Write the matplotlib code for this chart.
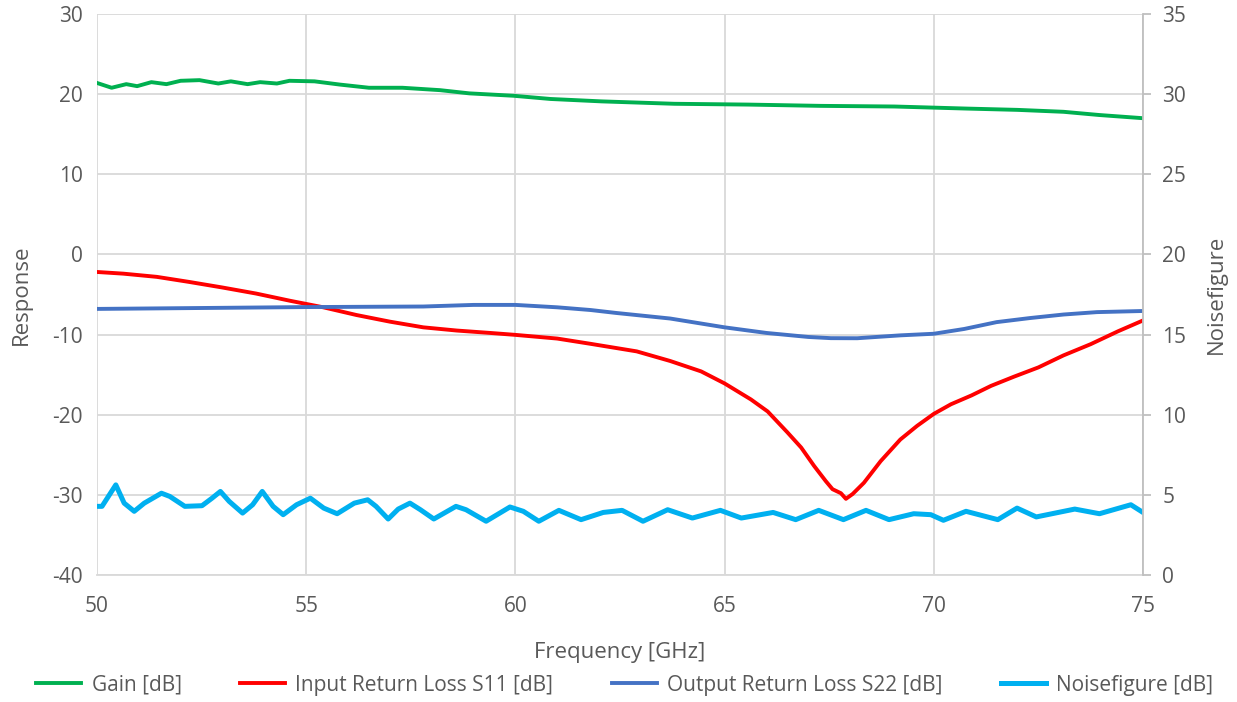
import matplotlib
matplotlib.use("Agg")
import matplotlib.pyplot as plt

# values
gain_f = [50.0, 50.35, 50.7, 50.96, 51.3, 51.66, 52.0, 52.45, 52.9, 53.2, 53.6, 53.9, 54.3, 54.6,
          55.2, 55.8, 56.5, 57.3, 58.2, 58.9, 59.96, 60.84, 62.06, 63.8, 65.56, 67.3, 69.06,
          70.8, 72.0, 73.1, 73.95, 75.0]
gain_db = [21.4, 20.8, 21.25, 21.0, 21.5, 21.25, 21.67, 21.75, 21.33, 21.6, 21.25, 21.5, 21.33, 21.67,
           21.6, 21.2, 20.8, 20.8, 20.5, 20.1, 19.8, 19.4, 19.1, 18.8, 18.7, 18.54, 18.46,
           18.2, 18.04, 17.8, 17.4, 17.0]

s11_f = [50.0, 50.63, 51.43, 52.2, 53.0, 53.8, 54.62, 55.41, 56.2, 57.0, 57.8, 58.6, 59.4, 60.0,
         61.0, 61.8, 62.9, 63.7, 64.44, 65.0, 65.63, 66.03, 66.5, 66.83, 67.14, 67.42, 67.58,
         67.78, 67.9, 68.06, 68.33, 68.73, 69.2, 69.6, 70.0, 70.41, 70.9, 71.37, 71.92, 72.5,
         73.1, 73.75, 74.4, 75.0]
s11_db = [-2.19, -2.4, -2.8, -3.43, -4.13, -4.88, -5.79, -6.6, -7.56, -8.39, -9.1, -9.5, -9.8, -10.04,
          -10.5, -11.16, -12.1, -13.3, -14.6, -16.1, -18.1, -19.6, -22.2, -24.1, -26.4, -28.3, -29.3,
          -29.8, -30.5, -29.9, -28.5, -25.8, -23.1, -21.4, -19.9, -18.7, -17.6, -16.4, -15.25, -14.1,
          -12.6, -11.2, -9.6, -8.24]

s22_f = [50.0, 52.2, 55.0, 57.8, 59.0, 60.0, 61.0, 61.8, 62.4, 63.7, 65.0, 66.0, 67.0, 67.54,
         68.17, 69.2, 70.0, 70.73, 71.5, 72.3, 73.1, 73.9, 75.0]
s22_db = [-6.8, -6.7, -6.57, -6.5, -6.3, -6.3, -6.6, -6.94, -7.3, -8.0, -9.1, -9.8, -10.3, -10.45,
          -10.46, -10.1, -9.9, -9.3, -8.45, -7.94, -7.5, -7.2, -7.06]

nf_f = [50.0, 50.12, 50.45, 50.65, 50.89, 51.13, 51.54, 51.74, 52.1, 52.51, 52.75, 52.95, 53.16,
        53.48, 53.72, 53.95, 54.21, 54.45, 54.77, 55.1, 55.42, 55.74, 56.15, 56.47, 56.67, 56.96,
        57.2, 57.48, 57.73, 58.05, 58.58, 58.82, 59.3, 59.87, 60.19, 60.56, 61.04, 61.57, 62.1,
        62.55, 63.05, 63.64, 64.23, 64.9, 65.4, 66.16, 66.7, 67.25, 67.84, 68.38, 68.93, 69.52,
        69.93, 70.23, 70.77, 71.53, 71.99, 72.45, 73.37, 73.96, 74.71, 75.0]
nf_db = [4.28, 4.28, 5.62, 4.48, 3.97, 4.48, 5.1, 4.9, 4.28, 4.32, 4.79, 5.21, 4.59,
         3.86, 4.38, 5.21, 4.28, 3.76, 4.38, 4.79, 4.17, 3.82, 4.48, 4.69, 4.28, 3.49,
         4.11, 4.48, 4.07, 3.49, 4.28, 4.07, 3.35, 4.24, 3.97, 3.35, 4.03, 3.45, 3.9,
         4.03, 3.35, 4.07, 3.55, 4.03, 3.55, 3.9, 3.45, 4.03, 3.45, 4.03, 3.45, 3.82,
         3.76, 3.41, 3.97, 3.45, 4.17, 3.62, 4.11, 3.82, 4.38, 3.9]

text_c = "#595959"
grid_c = "#D9D9D9"
plt.rcParams["font.family"] = ["Open Sans", "DejaVu Sans"]
plt.rcParams["axes.unicode_minus"] = False

fig = plt.figure(figsize=(12.37, 7.02), dpi=100)
ax = fig.add_axes([0.0784, 0.181, 0.8456, 0.799])
ax2 = ax.twinx()

l1, = ax.plot(gain_f, gain_db, color="#00B050", lw=2.8, label="Gain [dB]")
l2, = ax.plot(s11_f, s11_db, color="#FF0000", lw=2.8, label="Input Return Loss S11 [dB]")
l3, = ax.plot(s22_f, s22_db, color="#4472C4", lw=2.8, label="Output Return Loss S22 [dB]")
l4, = ax2.plot(nf_f, nf_db, color="#00B0F0", lw=3.6, label="Noisefigure [dB]")

ax.set_xlim(50, 75)
ax.set_ylim(-40, 30)
ax2.set_ylim(0, 35)
ax.set_xticks(range(50, 76, 5))
ax.set_yticks(range(-40, 31, 10))
ax2.set_yticks(range(0, 36, 5))

ax.grid(True, color=grid_c, lw=1.3)
ax.set_axisbelow(True)
for a in (ax, ax2):
    for s in a.spines.values():
        s.set_visible(False)
ax.spines["bottom"].set_visible(True)
ax.spines["bottom"].set_color(grid_c)
ax.spines["bottom"].set_linewidth(1.3)
ax2.spines["right"].set_visible(True)
ax2.spines["right"].set_color("#BFBFBF")
ax2.spines["right"].set_linewidth(1.3)

ax.tick_params(axis="both", length=0, labelsize=15, labelcolor=text_c, pad=10)
ax.tick_params(axis="x", pad=15)
ax2.tick_params(axis="y", length=6, width=1.3, color="#BFBFBF", labelsize=15,
                labelcolor=text_c, pad=8)

ax.set_xlabel("Frequency [GHz]", fontsize=16, color=text_c, labelpad=18)
ax.set_ylabel("Response", fontsize=16, color=text_c, labelpad=15)
ax2.set_ylabel("Noisefigure", fontsize=16, color=text_c, labelpad=14)

fig.legend(handles=[l1, l2, l3, l4], loc="center", bbox_to_anchor=(0.505, 0.024), ncol=4,
           frameon=False, fontsize=15, labelcolor=text_c, handlelength=2.16,
           handletextpad=0.5, columnspacing=2.8)

fig.savefig("out.png", dpi=100)
